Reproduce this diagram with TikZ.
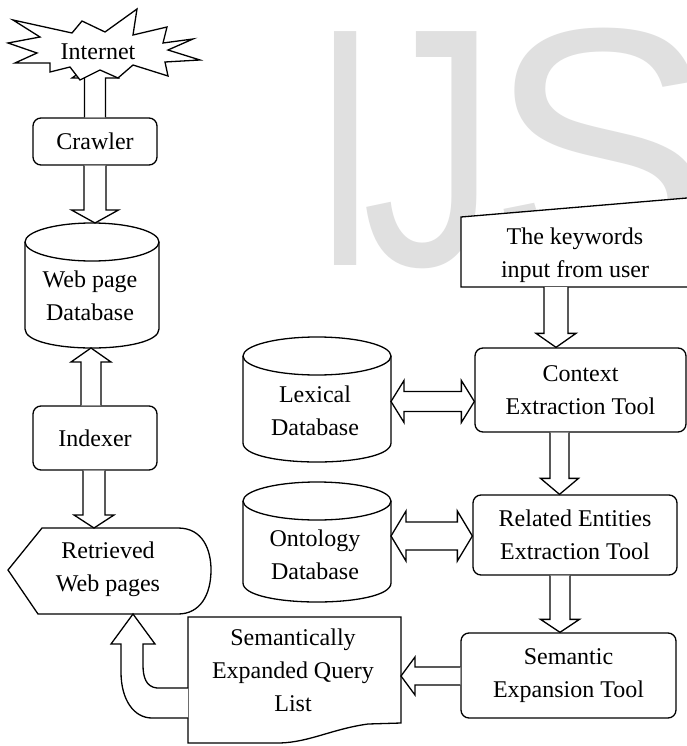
\documentclass[tikz,border=0pt]{standalone}
\usepackage{fontspec}
\setmainfont{Liberation Serif}
\newfontfamily\wmfont{Liberation Sans}
\usetikzlibrary{calc}
\definecolor{wmgray}{RGB}{224,224,224}
\tikzset{
  ln/.style={line width=1.3pt, line join=miter},
  lbl/.style={align=center, inner sep=0pt, font=\fontsize{24}{33}\selectfont},
  box/.style={ln, draw, fill=white, rounded corners=8pt, lbl},
  anchorbox/.style={inner sep=0pt, outer sep=0pt, draw=none},
  blk/.style={ln, draw, fill=white},
  wm/.style={inner sep=0pt, anchor=base, text=wmgray, font=\wmfont\fontsize{340}{340}\selectfont},
}
% one-headed block arrow: start, tip, shaft half width, head half width, head length
\newcommand\blockarrow[5]{%
  \coordinate (hb) at ($#2!#5!#1$);
  \draw[blk] ($#1!#3!90:#2$) -- ($(hb)!#3!90:#2$) -- ($(hb)!#4!90:#2$) -- #2
    -- ($(hb)!#4!-90:#2$) -- ($(hb)!#3!-90:#2$) -- ($#1!#3!-90:#2$);
}
% two-headed block arrow: A, B, shaft half width, head half width, head length
\newcommand\dblarrow[5]{%
  \coordinate (ha) at ($#1!#5!#2$);
  \coordinate (hb) at ($#2!#5!#1$);
  \draw[blk] #1 -- ($(ha)!#4!90:#2$) -- ($(ha)!#3!90:#2$) -- ($(hb)!#3!-90:#1$)
    -- ($(hb)!#4!-90:#1$) -- #2 -- ($(hb)!#4!90:#1$) -- ($(hb)!#3!90:#1$)
    -- ($(ha)!#3!-90:#2$) -- ($(ha)!#4!-90:#2$) -- cycle;
}
% cylinder: name, cx, rx, top, bottom, ry, text, text centre y
\newcommand\cyl[8]{%
  \draw[ln, fill=white] ({#2-#3},{#4+#6}) -- ({#2-#3},{#5-#6})
    .. controls ({#2-#3},{#5+#6/3}) and ({#2+#3},{#5+#6/3}) .. ({#2+#3},{#5-#6})
    -- ({#2+#3},{#4+#6});
  \draw[ln, fill=white] (#2,{#4+#6}) ellipse [x radius=#3pt, y radius=#6pt];
  \node[anchorbox, minimum width={2*#3pt}, minimum height={(#5-#4)*1pt}] (#1) at (#2,{(#4+#5)/2}) {};
  \node[lbl] at ({#2-2},#8) {#7};
}
\begin{document}
\begin{tikzpicture}[x=1pt,y=-1pt]
\fill[white] (0,0) rectangle (687,746);
\useasboundingbox (0,0) rectangle (687,746);

% watermark
\node[wm] at (346,265) {\scalebox{0.7}[1]{I}};
\node[wm] at (430,265) {\scalebox{0.79}[1]{J}};
\node[wm] at (602,265) {S};

% left column
\node[box, minimum width=124pt, minimum height=47pt] (crawler) at (95,141.5) {Crawler};
\node[lbl] (inet) at (98,52) {\phantom{Internet}};
\coordinate (inettip) at (crawler.north |- 0,62);
\blockarrow{(crawler.north)}{(inettip)}{10.5pt}{23pt}{16pt}
\draw[ln, fill=white] (13,20) -- (72,33) -- (82,21) -- (105,32) -- (137,9) -- (133,35)
  -- (167,27) -- (163,43) -- (193,39) -- (168,50) -- (200,60) -- (165,62) -- (168,76)
  -- (133,65) -- (118,78) -- (100,70) -- (80,80) -- (70,67) -- (50,72) -- (50,63)
  -- (15,63) -- (37,53) -- (8,43) -- (40,37) -- cycle;
\node[lbl] at (inet) {Internet};

\cyl{webdb}{92}{67}{223}{348}{19}{Web page\\Database}{296}
\node[box, minimum width=124pt, minimum height=64pt] (indexer) at (95,438) {Indexer};

\draw[ln, fill=white] (8,570) -- (42,528) -- (178,528) .. controls (203,528) and (211,550) .. (211,570)
  .. controls (211,595) and (200,614) .. (178,614) -- (38,614) -- cycle;
\node[anchorbox, minimum width=203pt, minimum height=86pt] (ret) at (109.5,571) {};
\node[lbl] at (108,569) {Retrieved\\Web pages};

\blockarrow{(crawler.south)}{(crawler.south |- webdb.north)}{11pt}{23.5pt}{13pt}
\coordinate (ia) at ([xshift=-4pt]indexer.north);
\coordinate (ib) at (ia |- webdb.south);
\blockarrow{(ia)}{(ib)}{10pt}{20pt}{14pt}
\coordinate (ic) at ([xshift=-1pt]indexer.south);
\coordinate (id) at (ic |- ret.north);
\blockarrow{(ic)}{(id)}{11pt}{20pt}{13pt}

% right column
\draw[ln, fill=white] (687,198) -- (461,217) -- (461,287) -- (687,287);
\node[anchorbox, minimum width=226pt, minimum height=70pt] (kw) at (574,252) {};
\node[lbl] at (575,255) {The keywords\\input from user};

\node[box, minimum width=211pt, minimum height=84pt] (ctx) at (580.5,390) {Context\\Extraction Tool};
\node[box, minimum width=204pt, minimum height=80pt] (rel) at (575,535) {Related Entities\\Extraction Tool};
\node[box, minimum width=215pt, minimum height=85pt] (sem) at (568.5,675.5) {Semantic\\Expansion Tool};

\coordinate (ka) at ([xshift=-18pt]kw.south);
\coordinate (kb) at (ka |- ctx.north);
\blockarrow{(ka)}{(kb)}{12pt}{20pt}{14pt}
\coordinate (ca) at ([xshift=-21pt]ctx.south);
\coordinate (cb) at (ca |- rel.north);
\blockarrow{(ca)}{(cb)}{9.5pt}{19pt}{16pt}
\coordinate (ra) at ([xshift=-15pt]rel.south);
\coordinate (rb) at (ra |- sem.north);
\blockarrow{(ra)}{(rb)}{10pt}{19.5pt}{13pt}

\cyl{lexdb}{317}{74}{337}{462}{19}{Lexical\\Database}{411}
\cyl{ontdb}{317}{74}{482}{602}{19}{Ontology\\Database}{555}

\coordinate (la) at ([yshift=-2pt]lexdb.east);
\coordinate (lb) at (la -| ctx.west);
\dblarrow{(la)}{(lb)}{10pt}{21pt}{13pt}
\coordinate (oa) at ([yshift=6pt]ontdb.east);
\coordinate (ob) at (oa -| rel.west);
\dblarrow{(oa)}{(ob)}{14pt}{25pt}{15pt}

% semantically expanded query list (document shape)
\draw[ln, fill=white] (188,617) -- (401,617) -- (401,723) -- (368,724)
  .. controls (332,729) and (310,742) .. (280,743) -- (188,743) -- cycle;
\node[anchorbox, minimum width=213pt, minimum height=126pt] (seql) at (294.5,680) {};
\node[lbl] at (293,670) {Semantically\\Expanded Query\\List};

\coordinate (sa) at ([yshift=-0.5pt]sem.west);
\coordinate (sb) at (sa -| seql.east);
\blockarrow{(sa)}{(sb)}{9pt}{19pt}{14pt}

% curved arrow from list to retrieved pages
\coordinate (rtip) at ([xshift=23.5pt]ret.south);
\coordinate (qi) at ([yshift=-8pt]seql.west);
\coordinate (qo) at ([yshift=-38pt]seql.west);
\draw[blk] (qi) -- (157,688) .. controls (146,687) and (143,677) .. (143,665) -- (143,644)
  -- (155,644) -- (rtip) -- (111,644) -- (121,644) -- (121,672)
  .. controls (121,700) and (134,718) .. (152,718) -- (qo);
\end{tikzpicture}
\end{document}
